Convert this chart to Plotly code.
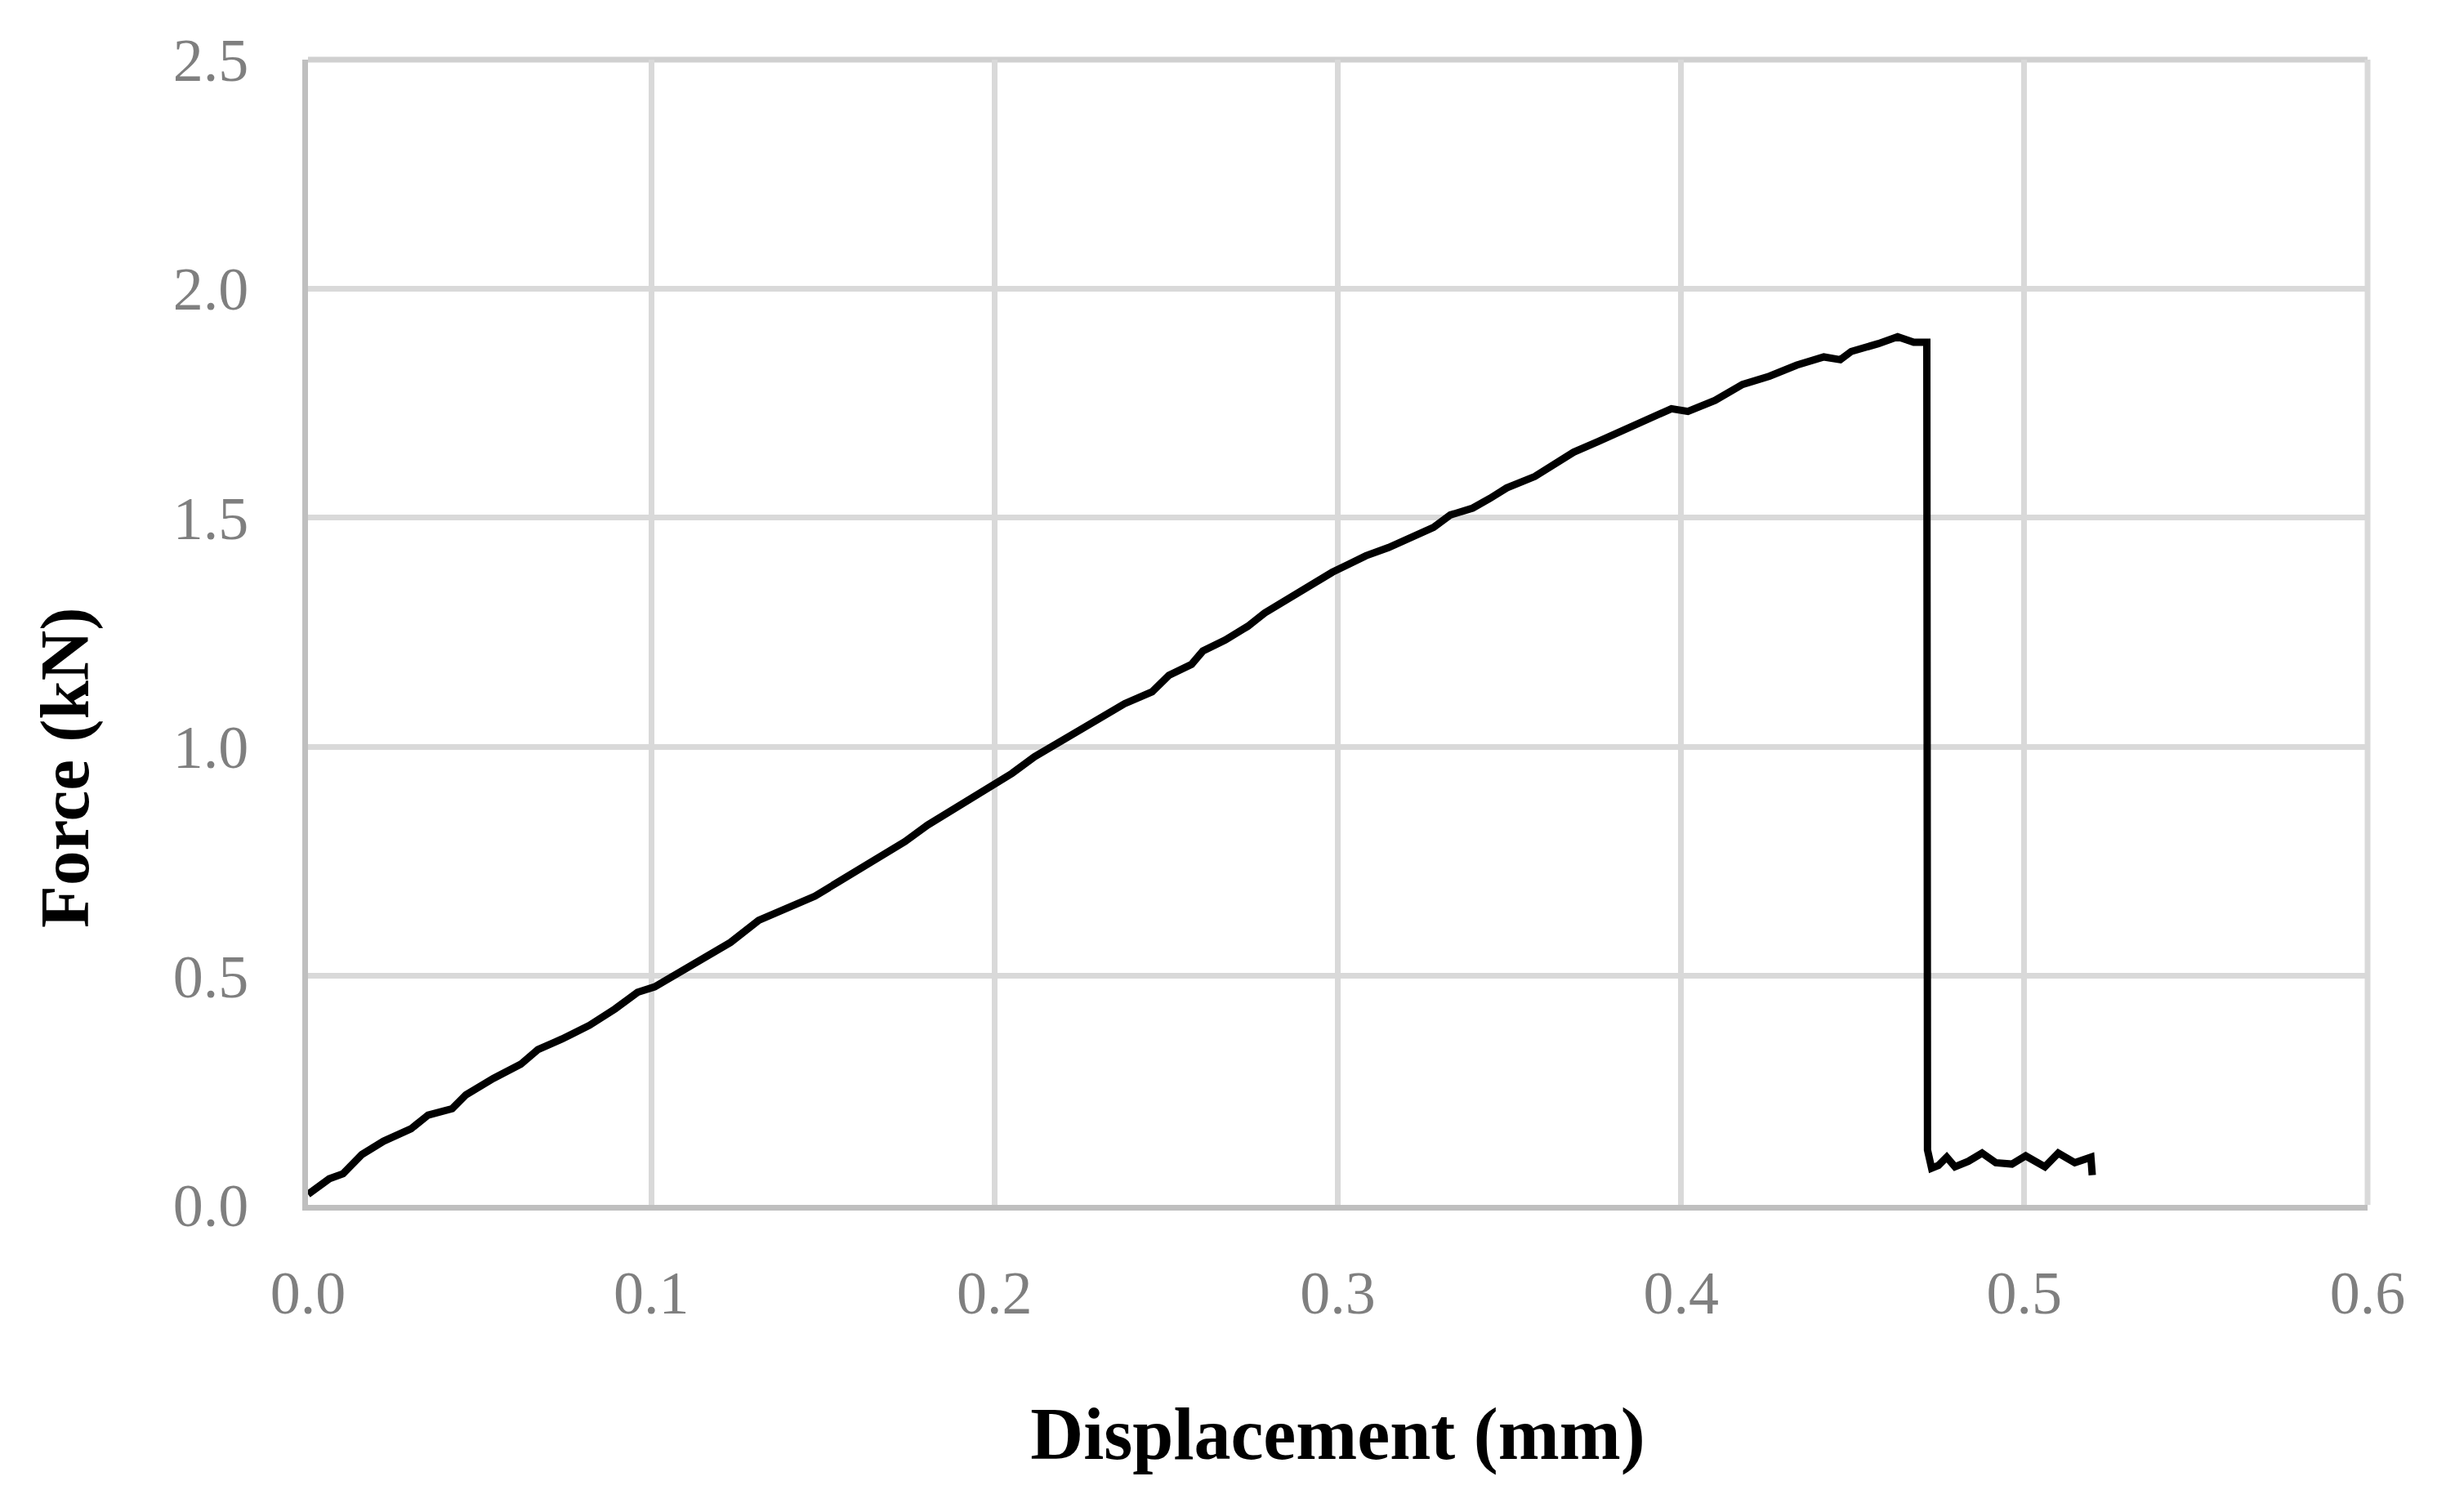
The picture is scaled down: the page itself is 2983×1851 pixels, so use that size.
import plotly.graph_objects as go

# Displacement (mm) and Force (kN)
displacement = [
    0.0000, 0.0062, 0.0102, 0.0157, 0.0220, 0.0300, 0.0350, 0.0420, 0.0460,
    0.0540, 0.0620, 0.0670, 0.0740, 0.0820, 0.0895, 0.0960, 0.1010, 0.1095,
    0.1170, 0.1231, 0.1313, 0.1412, 0.1477, 0.1543, 0.1608, 0.1674, 0.1739,
    0.1805, 0.1871, 0.1928, 0.2002, 0.2051, 0.2116, 0.2182, 0.2247, 0.2313,
    0.2379, 0.2459, 0.2508, 0.2574, 0.2607, 0.2672, 0.2738, 0.2787, 0.2852,
    0.2918, 0.2984, 0.3033, 0.3082, 0.3148, 0.3213, 0.3279, 0.3328, 0.3393,
    0.3443, 0.3492, 0.3574, 0.3623, 0.3687, 0.3758, 0.3830, 0.3878, 0.3940,
    0.3972, 0.4020, 0.4099, 0.4179, 0.4258, 0.4337, 0.4416, 0.4464, 0.4496,
    0.4575, 0.4631, 0.4678, 0.4716, 0.4718, 0.4730, 0.4750, 0.4774, 0.4798,
    0.4837, 0.4877, 0.4917, 0.4964, 0.5004, 0.5060, 0.5099, 0.5147, 0.5194,
    0.5198,
]
force = [
    0.023, 0.057, 0.068, 0.110, 0.139, 0.166, 0.196, 0.210, 0.240,
    0.276, 0.307, 0.339, 0.362, 0.392, 0.428, 0.464, 0.476, 0.514,
    0.549, 0.573, 0.621, 0.651, 0.674, 0.704, 0.734, 0.764, 0.793,
    0.829, 0.859, 0.889, 0.918, 0.942, 0.978, 1.008, 1.037, 1.067,
    1.094, 1.120, 1.156, 1.180, 1.209, 1.233, 1.263, 1.292, 1.322,
    1.349, 1.381, 1.399, 1.417, 1.435, 1.458, 1.479, 1.506, 1.521,
    1.542, 1.565, 1.590, 1.613, 1.643, 1.666, 1.690, 1.708, 1.726,
    1.738, 1.732, 1.756, 1.791, 1.809, 1.833, 1.851, 1.845, 1.863,
    1.880, 1.895, 1.883, 1.883, 0.120, 0.080, 0.086, 0.104, 0.083,
    0.095, 0.113, 0.092, 0.089, 0.107, 0.083, 0.113, 0.092, 0.104,
    0.065,
]

x_ticks = [0.0, 0.1, 0.2, 0.3, 0.4, 0.5, 0.6]
x_tick_labels = ["0.0", "0.1", "0.2", "0.3", "0.4", "0.5", "0.6"]
y_ticks = [0.0, 0.5, 1.0, 1.5, 2.0, 2.5]
y_tick_labels = ["0.0", "0.5", "1.0", "1.5", "2.0", "2.5"]

x_title = "Displacement (mm)"
y_title = "Force (kN)"

SERIF = "Liberation Serif, Times New Roman, serif"
GRID = "#d9d9d9"

fig = go.Figure()
fig.add_trace(go.Scatter(
    x=displacement, y=force, mode="lines",
    line=dict(color="black", width=9),
    showlegend=False,
))

fig.update_layout(
    width=2983, height=1851,
    margin=dict(l=377, r=85, t=73, b=376, autoexpand=False),
    paper_bgcolor="white", plot_bgcolor="white",
    font=dict(family=SERIF),
    shapes=[
        # top and right frame edges (grid-coloured)
        dict(type="line", xref="paper", yref="paper", x0=0, x1=1, y0=1, y1=1,
             line=dict(color="#d0d0d0", width=7), layer="below"),
        dict(type="line", xref="paper", yref="paper", x0=1, x1=1, y0=0, y1=1,
             line=dict(color=GRID, width=7), layer="below"),
    ],
    annotations=[
        # y-axis title, sitting a little below the plot's vertical centre as in the original
        dict(text="<b>" + y_title + "</b>", textangle=-90,
             xref="paper", yref="paper", x=-0.1178, y=0.3816,
             xanchor="center", yanchor="middle", showarrow=False,
             font=dict(family=SERIF, size=85, color="black")),
    ],
)
fig.update_xaxes(
    range=[0, 0.6], tickvals=x_ticks, ticktext=x_tick_labels,
    showgrid=True, gridcolor=GRID, gridwidth=7,
    showline=True, linecolor="#bfbfbf", linewidth=7,
    zeroline=False,
    ticks="outside", ticklen=37, tickcolor="rgba(0,0,0,0)",
    tickfont=dict(family=SERIF, size=74, color="#7f7f7f"),
    title=dict(text="<b>" + x_title + "</b>", standoff=103,
               font=dict(family=SERIF, size=90, color="black")),
)
fig.update_yaxes(
    range=[0, 2.5], tickvals=y_ticks, ticktext=y_tick_labels,
    showgrid=True, gridcolor=GRID, gridwidth=7,
    showline=True, linecolor="#bfbfbf", linewidth=7,
    zeroline=False,
    ticks="outside", ticklen=51, tickcolor="rgba(0,0,0,0)",
    tickfont=dict(family=SERIF, size=74, color="#7f7f7f"),
)

fig.write_html("out.html", config={"displayModeBar": False},
               post_script="document.body.style.margin='0';")
